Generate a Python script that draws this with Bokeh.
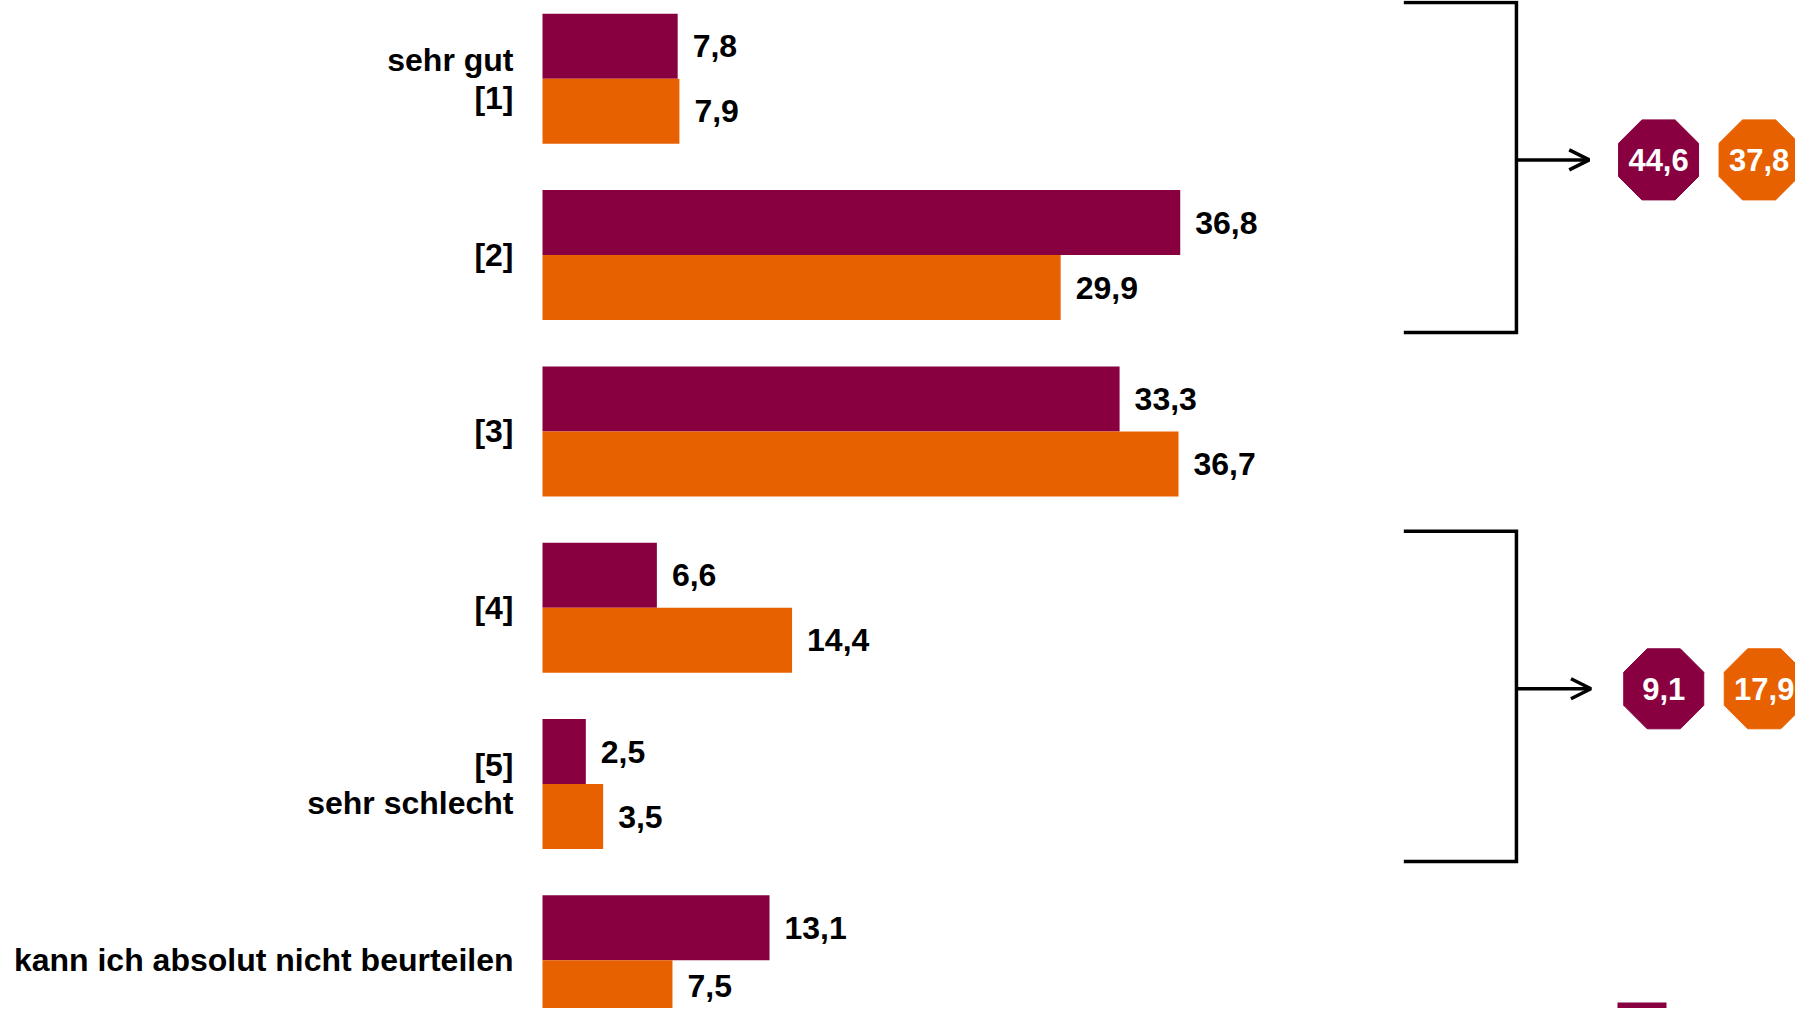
from bokeh.plotting import figure
from bokeh.models import Range1d, ColumnDataSource, Arrow, OpenHead
from bokeh.transform import dodge
from bokeh.core.properties import value
from bokeh.embed import file_html
from bokeh.resources import INLINE

# ---- data ----
categories = ["sehr gut\n[1]", "[2]", "[3]", "[4]", "[5]\nsehr schlecht",
              "kann ich absolut nicht beurteilen"]
series_a = [7.8, 36.8, 33.3, 6.6, 2.5, 13.1]   # purple
series_b = [7.9, 29.9, 36.7, 14.4, 3.5, 7.5]   # orange
summary_groups = [(0, 1), (3, 4)]              # categories combined
summary_a = [44.6, 9.1]
summary_b = [37.8, 17.9]

# ---- style ----
PURPLE = "#880040"
ORANGE = "#E86100"
FONT = value("Liberation Sans")
W, H = 1795, 1008
PX_PER_UNIT = 17.33     # px per percent
ORIGIN_X = 542          # screen x of value 0
PITCH = 176.3           # px between categories
FIRST_Y = 78.3          # screen y of first category centre
BAR_H = 65 / PITCH
HALF = BAR_H / 2

def fmt(v):
    return f"{v:.1f}".replace(".", ",")

x0 = -ORIGIN_X / PX_PER_UNIT
x1 = (W - ORIGIN_X) / PX_PER_UNIT
y_top = -FIRST_Y / PITCH
y_bot = (H - FIRST_Y) / PITCH

p = figure(width=W, height=H, output_backend="svg", toolbar_location=None,
           x_range=Range1d(x0, x1), y_range=Range1d(y_bot, y_top),
           x_axis_location=None, y_axis_location=None, min_border=0,
           outline_line_color=None)
p.xgrid.visible = False
p.ygrid.visible = False
p.background_fill_color = "white"
p.border_fill_color = "white"

idx = list(range(len(categories)))
n = len(categories)
src = ColumnDataSource(dict(
    y=idx, cat=categories, a=series_a, b=series_b,
    la=[fmt(v) for v in series_a], lb=[fmt(v) for v in series_b],
    # keep the last label (at the bottom edge) inside the canvas
    yoff_b=[0] * (n - 1) + [-7],
))

p.hbar(y=dodge("y", -HALF, range=p.y_range), right="a", left=0, height=BAR_H,
       source=src, fill_color=PURPLE, line_color=None)
p.hbar(y=dodge("y", HALF, range=p.y_range), right="b", left=0, height=BAR_H,
       source=src, fill_color=ORANGE, line_color=None)

common = dict(text_font=FONT, text_font_style="bold", text_font_size="32px",
              text_color="black", text_baseline="middle")
p.text(x="a", y=dodge("y", -HALF, range=p.y_range), text="la", source=src,
       x_offset=15, text_align="left", **common)
p.text(x="b", y=dodge("y", HALF, range=p.y_range), text="lb", source=src,
       x_offset=15, y_offset="yoff_b", text_align="left", **common)

# category labels
p.text(x=0, y="y", text="cat", source=src, x_offset=-29, text_align="right",
       text_line_height=1.05, **common)

# brackets, arrows and summary octagons
BR_X0 = 49.7
BR_X1 = 56.2
ARROW_X = 60.4
OCT_X = [64.4, 70.2]
for gi, (first, last) in enumerate(summary_groups):
    top = max(first - 0.433, y_top + 1.5 / PITCH)
    bot = last + 0.439
    mid = (first + last) / 2 - 0.04
    p.line(x=[BR_X0, BR_X1, BR_X1, BR_X0], y=[top, top, bot, bot],
           line_color="black", line_width=3.5, line_join="miter")
    p.add_layout(Arrow(end=OpenHead(size=20, line_width=3.5, line_color="black"),
                       x_start=BR_X1, y_start=mid, x_end=ARROW_X + 0.1 * gi, y_end=mid,
                       line_width=3.5, line_color="black"))
    dx = 0.3 * gi
    osrc = ColumnDataSource(dict(
        x=[OCT_X[0] + dx, OCT_X[1] + dx], y=[mid, mid],
        c=[PURPLE, ORANGE], t=[fmt(summary_a[gi]), fmt(summary_b[gi])],
    ))
    p.ngon(x="x", y="y", radius=43.3, radius_units="screen", n=8, angle=3.14159265 / 8,
           fill_color="c", line_color="c", source=osrc)
    p.text(x="x", y="y", text="t", source=osrc, text_align="center",
           text_font=FONT, text_font_style="bold", text_font_size="31px",
           text_color="white", text_baseline="middle")

# partially visible legend swatch at the bottom edge
leg_y = y_bot - 3 / PITCH
p.rect(x=[(1641.5 - 542) / PX_PER_UNIT], y=[leg_y], width=49, height=6,
       width_units="screen", height_units="screen", fill_color=PURPLE, line_color=None)

open("out.html", "w").write(file_html(p, INLINE))
